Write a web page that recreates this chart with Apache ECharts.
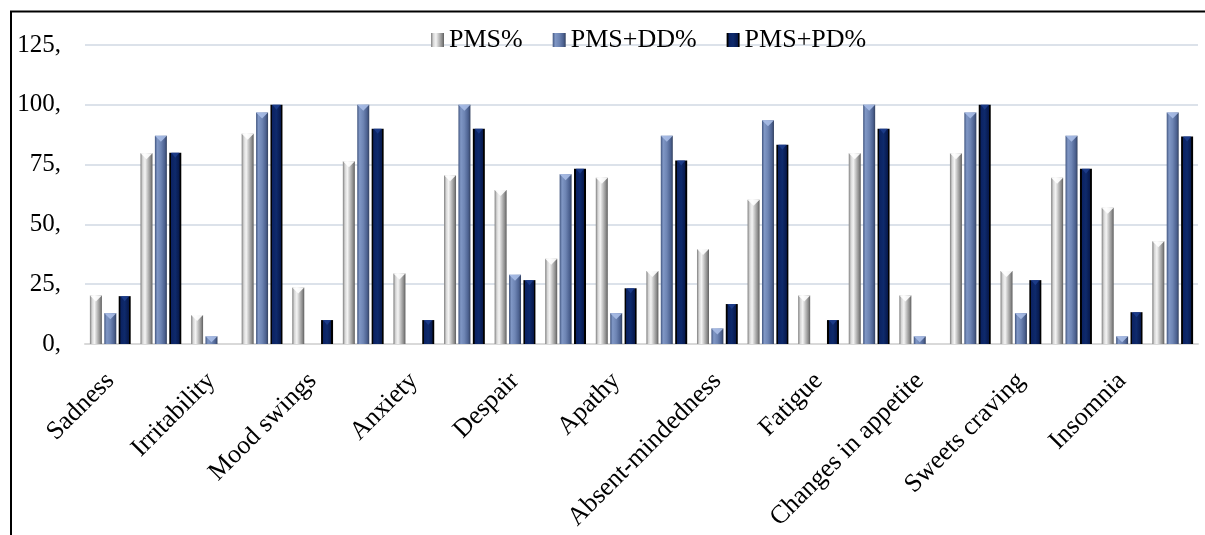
<!DOCTYPE html>
<html>
<head>
<meta charset="utf-8">
<script src="https://cdn.jsdelivr.net/npm/echarts@6/dist/echarts.min.js"></script>
<style>
  html, body { margin: 0; padding: 0; background: #fff; }
  #chart { width: 1205px; height: 535px; }
</style>
</head>
<body>
<div id="chart"></div>
<script>
// Symptoms; each one has two adjacent bar groups (the two answer shares, summing to ~100 %)
const symptoms = ['Sadness', 'Irritability', 'Mood swings', 'Anxiety', 'Despair', 'Apathy',
  'Absent-mindedness', 'Fatigue', 'Changes in appetite', 'Sweets craving', 'Insomnia'];

const seriesNames = ['PMS%', 'PMS+DD%', 'PMS+PD%'];

const pms   = [20.3, 79.7, 12.1, 87.9, 23.6, 76.4, 29.5, 70.5, 64.4, 35.6, 69.5, 30.5,
               39.7, 60.3, 20.3, 79.7, 20.3, 79.7, 30.5, 69.5, 57.0, 43.0];
const pmsDD = [12.9, 87.1, 3.2, 96.8, 0, 100, 0, 100, 29.0, 71.0, 12.9, 87.1,
               6.5, 93.5, 0, 100, 3.2, 96.8, 12.9, 87.1, 3.2, 96.8];
const pmsPD = [20, 80, 0, 100, 10, 90, 10, 90, 26.7, 73.3, 23.3, 76.7,
               16.7, 83.3, 10, 90, 0, 100, 26.7, 73.3, 13.3, 86.7];

const yTicks = { min: 0, max: 125, interval: 25 };

// two category slots per symptom; only the first of each pair is labelled
const categories = symptoms.flatMap(s => [s, s]);

const FONT = "'Liberation Serif', 'Times New Roman', serif";

function hGrad(stops) {
  return new echarts.graphic.LinearGradient(0, 0, 1, 0,
    stops.map(([o, c]) => ({ offset: o, color: c })));
}

const fills = [
  hGrad([[0, '#7d7d7d'], [0.18, '#d6d6d6'], [0.38, '#f4f4f4'], [0.62, '#bdbdbd'], [0.85, '#8a8a8a'], [1, '#5e5e5e']]),
  hGrad([[0, '#41557f'], [0.2, '#8097c5'], [0.5, '#6e85b4'], [0.82, '#4c6190'], [1, '#33415f']]),
  hGrad([[0, '#000000'], [0.13, '#000000'], [0.16, '#0b2262'], [0.5, '#0e2a6c'], [0.84, '#07194d'], [0.87, '#000000'], [1, '#000000']])
];
const tops = ['#ffffff', '#a9bde6', '#1d3d8c'];
const topSize = [[12, 6], [12, 6], [8, 5]];
const values = [pms, pmsDD, pmsPD];

const BAR_W = 12, BAR_GAP = '20%';

const barSeries = values.map((vals, i) => ({
  name: seriesNames[i],
  type: 'bar',
  data: vals,
  barWidth: BAR_W,
  barGap: BAR_GAP,
  itemStyle: { color: fills[i] },
  z: 2
}));

// bevelled caps on top of each bar
const capSeries = values.map((vals, i) => ({
  name: seriesNames[i] + ' cap',
  type: 'pictorialBar',
  data: vals.map(v => (v > 0 ? v : '-')),
  barWidth: BAR_W,
  barGap: BAR_GAP,
  symbol: 'path://M0,0L10,0L5,5Z',
  symbolSize: topSize[i],
  symbolPosition: 'end',
  itemStyle: { color: tops[i], opacity: 0.9 },
  silent: true,
  z: 3
}));

const chart = echarts.init(document.getElementById('chart'), null, { renderer: 'canvas' });
chart.setOption({
  animation: false,
  backgroundColor: '#ffffff',
  graphic: [{
    type: 'rect',
    shape: { x: 11, y: 11.5, width: 1400, height: 700 },
    style: { fill: 'none', stroke: '#000', lineWidth: 2 },
    silent: true,
    z: 10
  }],
  legend: {
    data: seriesNames,
    left: 426,
    top: 22,
    itemWidth: 13,
    itemHeight: 14,
    itemGap: 30,
    icon: 'rect',
    textStyle: { fontFamily: FONT, fontSize: 26, color: '#000' }
  },
  grid: { left: 85, right: 7, top: 45, bottom: 191 },
  xAxis: {
    type: 'category',
    data: categories,
    axisLine: { show: true, lineStyle: { color: '#d9d9d9', width: 2 } },
    axisTick: { show: false },
    axisLabel: {
      interval: 1,
      rotate: 45,
      margin: 33,
      padding: [17, 0, 0, 0],
      fontFamily: FONT,
      fontSize: 26,
      color: '#000'
    }
  },
  yAxis: {
    type: 'value',
    min: yTicks.min,
    max: yTicks.max,
    interval: yTicks.interval,
    axisLine: { show: false },
    axisTick: { show: false },
    splitLine: { lineStyle: { color: '#dce2ea', width: 2 } },
    axisLabel: {
      margin: 24,
      fontFamily: FONT,
      fontSize: 25,
      color: '#000',
      formatter: v => v + ','
    }
  },
  series: barSeries.concat(capSeries)
});
</script>
</body>
</html>
